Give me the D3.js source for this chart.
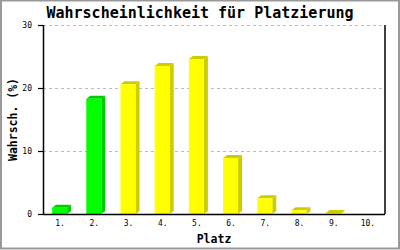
<!DOCTYPE html>
<html>
<head>
<meta charset="utf-8">
<script src="https://cdn.jsdelivr.net/npm/d3@7"></script>
<style>
  body { margin: 0; background: #fff; }
  svg { display: block; }
</style>
</head>
<body>
<div id="chart"></div>
<script>
// Data
const places = ["1.", "2.", "3.", "4.", "5.", "6.", "7.", "8.", "9.", "10."]
const chances = [1.0, 18.3, 20.6, 23.5, 24.6, 8.9, 2.5, 0.6, 0.15, 0]
const highlighted = ["1.", "2."]
const yTicks = [0, 10, 20, 30]

const svgWidth = 400
const svgHeight = 250

let margin = { top: 25, right: 15, bottom: 36, left: 43 }
let width = svgWidth - margin.left - margin.right
let height = svgHeight - margin.top - margin.bottom

const mono = "'DejaVu Sans Mono', 'Liberation Mono', monospace"

let svg = d3.select("#chart")
  .append("svg")
  .attr("width", svgWidth)
  .attr("height", svgHeight)

// frame
svg.append("rect")
  .attr("x", 1).attr("y", 0.5)
  .attr("width", svgWidth - 2).attr("height", svgHeight - 2)
  .attr("fill", "white")
  .attr("stroke", "#999")
  .attr("stroke-width", 2)

let chartGroup = svg.append("g")
  .attr("transform", `translate(${margin.left}, ${margin.top})`)

let xScale = d3.scaleBand().domain(places).range([0, width])
let yScale = d3.scaleLinear().domain([0, 30]).range([height, 0])

// gridlines
chartGroup.append("g")
  .selectAll("line")
  .data(yTicks.filter(d => d > 0))
  .enter()
  .append("line")
  .attr("x1", 0).attr("x2", width)
  .attr("y1", d => Math.round(yScale(d)) + 0.5)
  .attr("y2", d => Math.round(yScale(d)) + 0.5)
  .attr("stroke", "#bbb")
  .attr("stroke-dasharray", "3,3")

// bars, drawn with a little 3D depth
const barW = 15, depthX = 4, depthY = 3
let bars = chartGroup.append("g")
  .selectAll("g")
  .data(places.map((p, i) => ({ place: p, value: chances[i] })))
  .enter()
  .append("g")
  .filter(d => d.value > 0)

bars.each(function(d) {
  let g = d3.select(this)
  let isGreen = highlighted.includes(d.place)
  let front = isGreen ? "#00ff00" : "#ffff00"
  let dark = isGreen ? "#00cc00" : "#cccc00"
  let x0 = xScale(d.place) + xScale.bandwidth() / 2 - barW / 2 - 0.5
  let y0 = yScale(d.value)
  let y1 = yScale(0)
  // side face
  g.append("path")
    .attr("d", `M${x0 + barW},${y0} L${x0 + barW + depthX},${y0 - depthY} L${x0 + barW + depthX},${y1 - depthY} L${x0 + barW},${y1} Z`)
    .attr("fill", dark)
  // top face
  g.append("path")
    .attr("d", `M${x0},${y0} L${x0 + depthX},${y0 - depthY} L${x0 + barW + depthX},${y0 - depthY} L${x0 + barW},${y0} Z`)
    .attr("fill", dark)
  // front face
  g.append("rect")
    .attr("x", x0).attr("y", y0)
    .attr("width", barW).attr("height", y1 - y0)
    .attr("fill", front)
})

// axes
let leftAxis = d3.axisLeft(yScale).tickValues(yTicks).tickSize(5).tickPadding(6)
let yAxis = chartGroup.append("g").call(leftAxis)
yAxis.select(".domain").attr("stroke-width", 1.5).attr("d", `M0.5,0 V${height}`)
yAxis.selectAll(".tick line").attr("stroke-width", 1.2)
yAxis.selectAll("text")
  .style("font", `8px ${mono}`)
  .attr("fill", "black")

let bottomAxis = d3.axisBottom(xScale).tickSize(0).tickPadding(6)
let xAxis = chartGroup.append("g")
  .attr("transform", `translate(0, ${height})`)
  .call(bottomAxis)
xAxis.select(".domain").attr("stroke-width", 1.5).attr("d", `M0,0.5 H${width}`)
xAxis.selectAll("text")
  .style("font", `8px ${mono}`)
  .attr("fill", "black")

// right border line
chartGroup.append("line")
  .attr("x1", width).attr("x2", width)
  .attr("y1", 0).attr("y2", height)
  .attr("stroke", "black")
  .attr("stroke-width", 1.5)

// title
svg.append("text")
  .attr("x", 200).attr("y", 18)
  .attr("text-anchor", "middle")
  .style("font", `bold 15px ${mono}`)
  .text("Wahrscheinlichkeit für Platzierung")

// axis labels
svg.append("text")
  .attr("x", margin.left + width / 2).attr("y", 243)
  .attr("text-anchor", "middle")
  .style("font", `bold 11.5px ${mono}`)
  .text("Platz")

svg.append("text")
  .attr("transform", `translate(17, ${margin.top + height / 2}) rotate(-90)`)
  .attr("text-anchor", "middle")
  .style("font", `bold 11.5px ${mono}`)
  .text("Wahrsch. (%)")
</script>
</body>
</html>
